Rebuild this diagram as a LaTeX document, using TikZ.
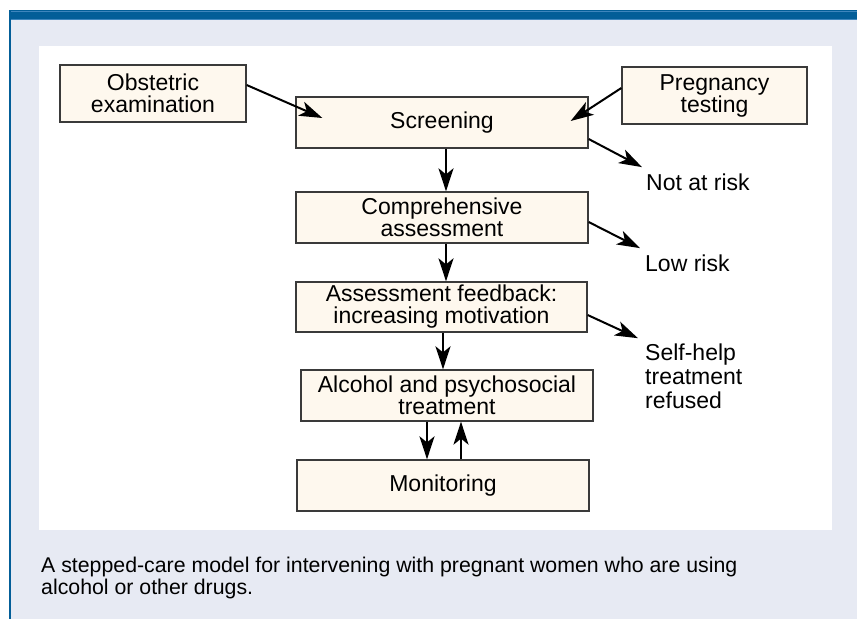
\documentclass[tikz,border=0pt]{standalone}
\usepackage{fontspec}
\setmainfont{Liberation Sans}
\usepackage{tikz}
\usetikzlibrary{arrows.meta}
\tikzset{>={Stealth[length=23pt,width=15pt,inset=6pt]}}
\definecolor{barblue}{HTML}{035E98}
\definecolor{barlight}{HTML}{3F86BD}
\definecolor{paleback}{HTML}{E7EAF3}
\definecolor{boxfill}{HTML}{FEF8EE}
\definecolor{boxline}{HTML}{3A3A3A}
\tikzset{
  box/.style={draw=boxline, line width=1.3pt, fill=boxfill, inner sep=0pt,
    minimum width=292pt, minimum height=51pt, align=center,
    font=\fontsize{23}{22}\selectfont},
  outcome/.style={inner sep=0pt, font=\fontsize{23}{24}\selectfont},
  flow/.style={->, line width=2pt}
}

\begin{document}
\begin{tikzpicture}[x=1pt, y=-1pt]
    \useasboundingbox (0,0) rectangle (857,619);
    % frame: pale panel, blue rule on top and left, white drawing area
    \fill[paleback] (11,19) rectangle (857,619);
    \fill[barblue] (9,10) rectangle (857,19);
    \fill[barblue] (9,10) rectangle (11,619);
    \draw[barlight, line width=0.8pt] (11,11) -- (857,11);
    \draw[barlight, line width=0.6pt] (11,19.3) -- (857,19.3);
    \fill[white] (39,46) rectangle (832,530);

    \node[box, minimum width=186pt, minimum height=57pt] (obst) at (153,93.5) {Obstetric\\examination};
    \node[box, minimum width=185pt, minimum height=57pt] (preg) at (714.5,95.5) {Pregnancy\\testing};
    \node[box] (screen) at (442,122.5) {Screening};
    \node[box] (comp) at (442,217.5) {Comprehensive\\assessment};
    \node[box, minimum width=291pt, minimum height=50pt] (feedb) at (441.5,307) {Assessment feedback:\\increasing motivation};
    \node[box] (treat) at (447,395.5) {Alcohol and psychosocial\\treatment};
    \node[box] (monit) at (443,485.5) {Monitoring};

    \node[outcome, anchor=base west] (notrisk) at (646,190) {Not at risk};
    \node[outcome, anchor=base west] (lowrisk) at (645,271) {Low risk};
    \node[outcome, anchor=north west, align=left] (selfhelp) at (645,343.2) {Self-help\\treatment\\refused};

    \draw[flow] ([yshift=8.5pt]obst.east) -- ([shift={(27pt,4.5pt)}]screen.west);
    \draw[flow] ([yshift=7.5pt]preg.west) -- ([shift={(-18pt,1.5pt)}]screen.east);
    \draw[flow] ([xshift=4pt]screen.south) -- ([xshift=4pt]comp.north);
    \draw[flow] ([xshift=4pt]comp.south) -- ([xshift=4.5pt]feedb.north);
    \draw[flow] ([xshift=1.5pt]feedb.south) -- ([xshift=-4pt]treat.north);
    \draw[flow] ([xshift=-20pt]treat.south) -- ([xshift=-16pt]monit.north);
    \draw[flow] ([xshift=18pt]monit.north) -- ([xshift=14pt]treat.south);
    \draw[flow] ([yshift=-16.5pt]screen.east) -- ([shift={(-4pt,6pt)}]notrisk.north west);
    \draw[flow] ([yshift=-4.5pt]comp.east) -- ([shift={(-5pt,6pt)}]lowrisk.north west);
    \draw[flow] ([yshift=-8pt]feedb.east) -- ([shift={(-7pt,5pt)}]selfhelp.north west);

    \node[anchor=north west, align=left, inner sep=0pt, font=\fontsize{21.3}{22}\selectfont] (caption) at (41,556.4)
      {A stepped-care model for intervening with pregnant women who are using\\alcohol or other drugs.};
\end{tikzpicture}
\end{document}
